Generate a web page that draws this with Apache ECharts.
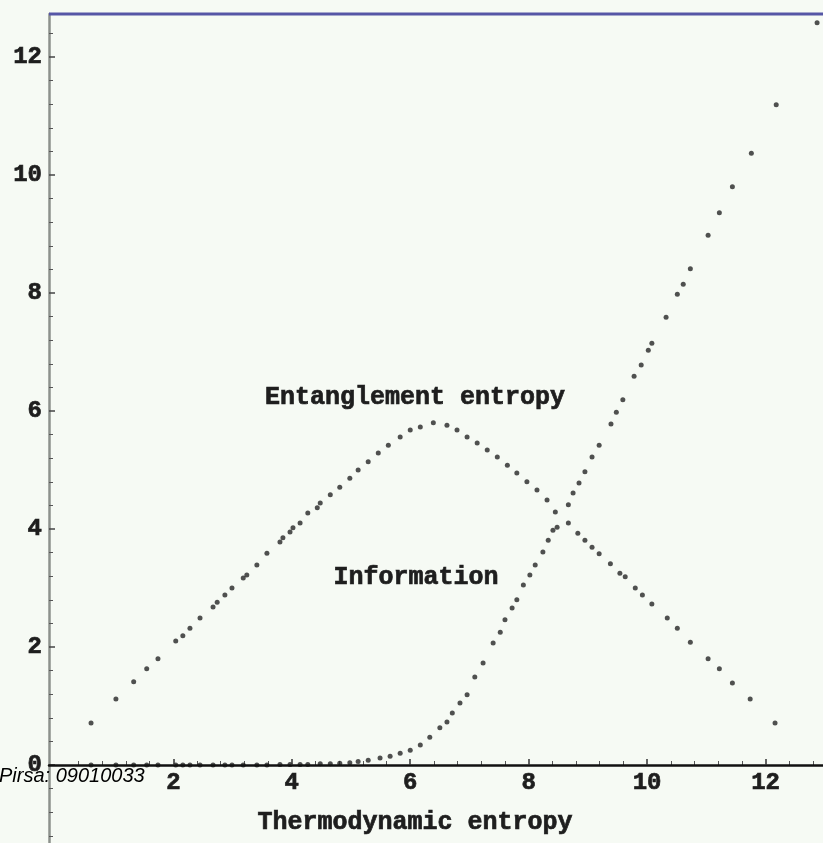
<!DOCTYPE html>
<html>
<head>
<meta charset="utf-8">
<script src="https://cdn.jsdelivr.net/npm/echarts@6/dist/echarts.min.js"></script>
<style>
html,body{margin:0;padding:0;background:#f6faf4;}
#c{width:823px;height:843px;}
</style>
</head>
<body>
<div id="c"></div>
<script>
// Entanglement entropy (x = thermodynamic entropy, y = entanglement entropy)
const entX = [0.61,1.03,1.33,1.55,1.74,2.04,2.16,2.28,2.45,2.67,2.74,2.87,2.99,3.18,3.24,3.41,3.58,3.80,3.85,3.97,4.02,4.14,4.27,4.43,4.48,4.65,4.81,4.98,5.12,5.29,5.46,5.63,5.83,6.00,6.17,6.39,6.62,6.79,6.96,7.13,7.30,7.47,7.64,7.80,7.97,8.14,8.31,8.45,8.67,8.83,8.95,9.07,9.19,9.38,9.54,9.63,9.80,9.92,10.08,10.34,10.51,10.73,11.03,11.22,11.44,11.74,12.16];
const entY = [0.71,1.12,1.41,1.63,1.80,2.10,2.19,2.32,2.49,2.68,2.76,2.88,3.00,3.17,3.22,3.39,3.59,3.78,3.85,3.95,4.02,4.10,4.27,4.36,4.44,4.58,4.71,4.86,5.00,5.14,5.29,5.42,5.56,5.68,5.73,5.80,5.76,5.68,5.56,5.46,5.34,5.22,5.08,4.95,4.80,4.66,4.49,4.29,4.10,3.93,3.81,3.69,3.58,3.41,3.25,3.19,3.00,2.88,2.73,2.49,2.32,2.08,1.80,1.63,1.39,1.12,0.71];
// Information
const infoX = [0.61,1.03,1.33,1.55,1.74,2.04,2.16,2.28,2.45,2.67,2.87,2.99,3.18,3.41,3.58,3.80,3.97,4.14,4.27,4.48,4.65,4.81,4.98,5.12,5.29,5.49,5.66,5.83,6.00,6.17,6.33,6.50,6.62,6.71,6.84,6.96,7.09,7.23,7.40,7.52,7.60,7.72,7.80,7.91,8.02,8.11,8.24,8.33,8.41,8.48,8.67,8.75,8.85,8.95,9.07,9.19,9.39,9.48,9.59,9.78,9.90,10.02,10.08,10.32,10.51,10.61,10.73,11.03,11.22,11.44,11.76,12.18,12.87];
const infoY = [0.0,0.0,0.0,0.0,0.0,0.0,0.0,0.0,0.0,0.0,0.0,0.0,0.0,0.0,0.0,0.01,0.01,0.01,0.01,0.02,0.02,0.03,0.04,0.06,0.08,0.12,0.15,0.20,0.25,0.34,0.47,0.63,0.73,0.88,1.05,1.19,1.49,1.73,2.07,2.25,2.46,2.66,2.80,3.05,3.22,3.39,3.61,3.81,3.98,4.03,4.41,4.61,4.78,4.97,5.22,5.42,5.78,5.98,6.19,6.59,6.78,7.03,7.15,7.59,7.98,8.15,8.41,8.98,9.36,9.80,10.37,11.19,12.58];
// Tick labels
const xTickLabels = [2,4,6,8,10,12];
const yTickLabels = [0,2,4,6,8,10,12];
const xMinorTicks = [0.4,0.8,1.2,1.6,2.4,2.8,3.2,3.6,4.4,4.8,5.2,5.6,6.4,6.8,7.2,7.6,8.4,8.8,9.2,9.6,10.4,10.8,11.2,11.6,12.4,12.8];
const yMinorTicks = [0.4,0.8,1.2,1.6,2.4,2.8,3.2,3.6,4.4,4.8,5.2,5.6,6.4,6.8,7.2,7.6,8.4,8.8,9.2,9.6,10.4,10.8,11.2,11.6,12.4];
const yMinorTicksBelow = [-1.2,-0.8,-0.4];
const xLabelText = 'Thermodynamic entropy';
const entLabel = 'Entanglement entropy';
const infoLabel = 'Information';
const sourceText = 'Pirsa: 09010033';

const entData = entX.map((x,i)=>[x, entY[i]]);
const infoData = infoX.map((x,i)=>[x, infoY[i]]);

const font = 'Liberation Mono';
const ink = '#1e1e1e';
const labelStyle = {fontFamily: font, fontWeight: 'bold', fontSize: 24, color: ink, textBorderColor: ink, textBorderWidth: 0.7};
const yLineStyle = {color: '#8c918c', width: 2.5};
function annot(text, x, y) {
  return {type: 'text', x: x, y: y, z: 10, style: {text: text, fontFamily: font, fontWeight: 'bold', fontSize: 25, fill: ink, stroke: ink, lineWidth: 0.7, textAlign: 'center', textVerticalAlign: 'middle'}};
}

const chart = echarts.init(document.getElementById('c'));
chart.setOption({
  backgroundColor: '#f6faf4',
  animation: false,
  grid: [
    {left: 49, right: 0, top: 14, bottom: 78, containLabel: false, outerBoundsMode: 'none'},
    {left: 49, right: 0, top: 765, bottom: 0, containLabel: false, outerBoundsMode: 'none'}
  ],
  xAxis: [{
    gridIndex: 0, type: 'value', min: -0.1, max: 12.97, position: 'bottom', z: 5,
    axisLine: {onZero: false, lineStyle: {color: '#111', width: 2.5}},
    axisTick: {customValues: xTickLabels, inside: true, length: 6, lineStyle: {color: '#333', width: 1.5}},
    axisLabel: Object.assign({customValues: xTickLabels, margin: 6}, labelStyle),
    splitLine: {show: false}
  },{
    gridIndex: 0, type: 'value', min: -0.1, max: 12.97, position: 'bottom',
    axisLine: {show: false, onZero: false},
    axisTick: {customValues: xMinorTicks, inside: true, length: 4, lineStyle: {color: '#555', width: 1}},
    axisLabel: {show: false},
    splitLine: {show: false}
  },{
    gridIndex: 1, type: 'value', min: -0.1, max: 12.97, show: false
  }],
  yAxis: [{
    gridIndex: 0, type: 'value', min: 0, max: 12.73, position: 'left',
    axisLine: {onZero: false, lineStyle: yLineStyle},
    axisTick: {customValues: yTickLabels, inside: true, length: 6, lineStyle: {color: '#444', width: 1.5}},
    axisLabel: Object.assign({customValues: yTickLabels, margin: 7}, labelStyle),
    splitLine: {show: false}
  },{
    gridIndex: 0, type: 'value', min: 0, max: 12.73, position: 'left',
    axisLine: {show: false, onZero: false},
    axisTick: {customValues: yMinorTicks, inside: true, length: 4, lineStyle: {color: '#555', width: 1}},
    axisLabel: {show: false},
    splitLine: {show: false}
  },{
    gridIndex: 1, type: 'value', min: -1.32, max: 0, position: 'left',
    axisLine: {onZero: false, lineStyle: yLineStyle},
    axisTick: {customValues: yMinorTicksBelow, inside: true, length: 4, lineStyle: {color: '#555', width: 1}},
    axisLabel: {show: false},
    splitLine: {show: false}
  }],
  series: [{
    name: entLabel, type: 'scatter', xAxisIndex: 0, yAxisIndex: 0,
    data: entData, symbol: 'circle', symbolSize: 5,
    itemStyle: {color: '#262626'}, z: 3
  },{
    name: infoLabel, type: 'scatter', xAxisIndex: 0, yAxisIndex: 0,
    data: infoData, symbol: 'circle', symbolSize: 5,
    itemStyle: {color: '#262626'}, z: 3
  }],
  graphic: [
    {type: 'rect', shape: {x: 49, y: 12.5, width: 774, height: 3}, style: {fill: '#5656a6'}, z: 10},
    annot(entLabel, 415, 398),
    annot(infoLabel, 416, 578),
    annot(xLabelText, 415, 823),
    {type: 'text', x: -1, y: 776, style: {text: sourceText, fontFamily: 'Liberation Sans', fontStyle: 'italic', fontSize: 20, fill: '#000', textAlign: 'left', textVerticalAlign: 'middle'}, z: 20}
  ]
});
</script>
</body>
</html>
